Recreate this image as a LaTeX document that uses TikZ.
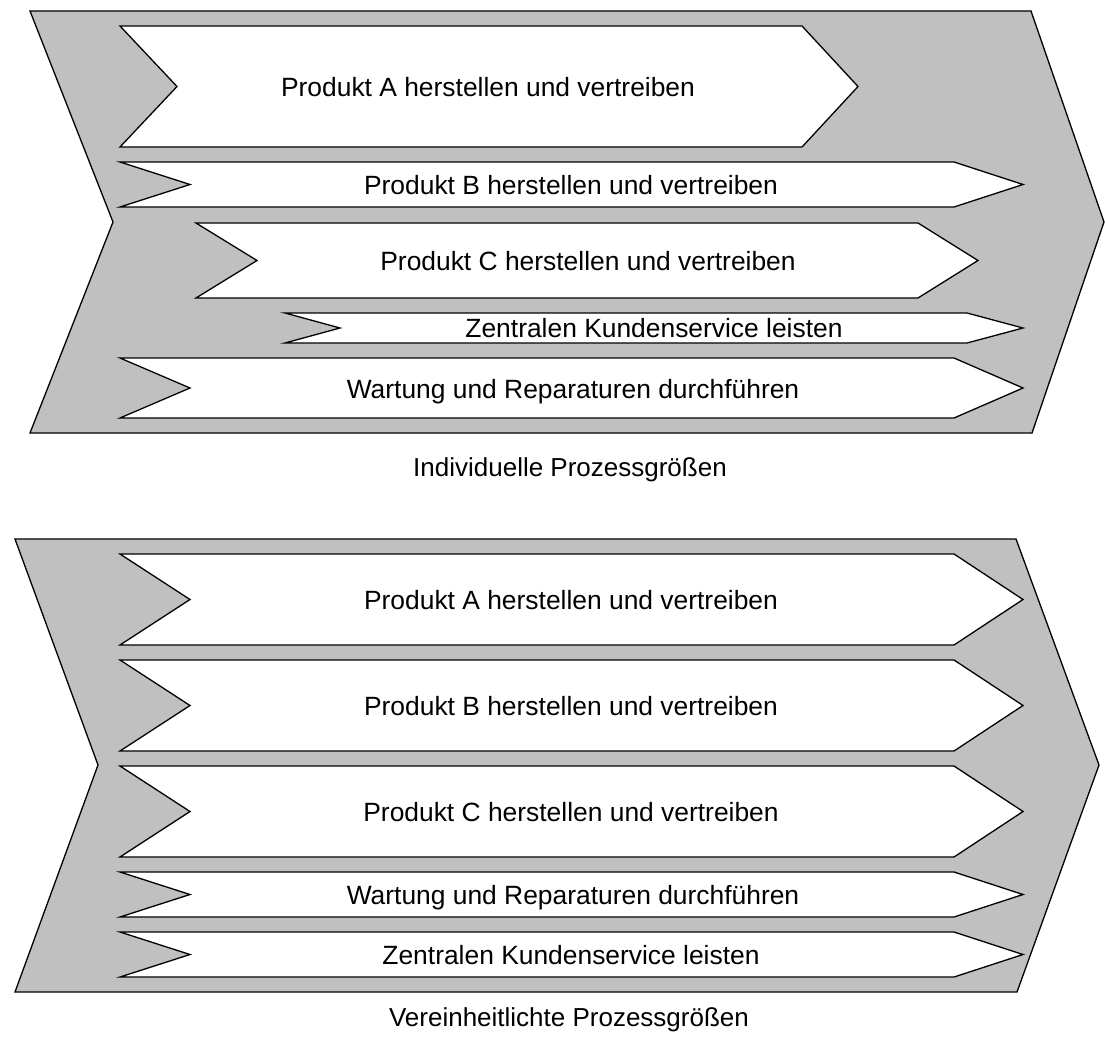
\documentclass[tikz,border=0pt]{standalone}
\usepackage{fontspec}
\setmainfont{Liberation Sans}
\begin{document}
\begin{tikzpicture}[x=1pt,y=-1pt,
  outline/.style={draw=black,line width=1.3pt,line join=miter},
  backarrow/.style={outline,fill=bargray},
  procbar/.style={outline,fill=white},
  proclabel/.style={anchor=base,inner sep=0pt,font=\fontsize{26.4}{30}\selectfont},
  caption/.style={anchor=base,inner sep=0pt,font=\fontsize{26}{30}\selectfont}]
\definecolor{bargray}{HTML}{C0C0C0}
\useasboundingbox (0,0) rectangle (1105,1041);
% process bar: left x, notch x, body end x, tip x, top y, bottom y
\newcommand\procshape[6]{%
  \draw[procbar] (#1,#5) -- (#3,#5) -- (#4,{(#5+#6)/2}) -- (#3,#6) -- (#1,#6)
    -- (#2,{(#5+#6)/2}) -- cycle;}

% ---- upper value chain: individual process sizes
\draw[backarrow] (30,11) -- (1031,11) -- (1104,222) -- (1032,433) -- (30,433) -- (113,222) -- cycle;
\procshape{120}{177}{802}{858}{26}{147}
\procshape{120}{190}{954}{1023}{162}{207}
\procshape{196}{257}{918}{978}{223}{298}
\procshape{285}{340}{967}{1023}{313}{343}
\procshape{120}{190}{954}{1023}{358}{418}
\node[proclabel] (ua) at (488,96) {Produkt A herstellen und vertreiben};
\node[proclabel] (ub) at (571,194) {Produkt B herstellen und vertreiben};
\node[proclabel] (uc) at (588,270) {Produkt C herstellen und vertreiben};
\node[proclabel] (uk) at (654,337) {Zentralen Kundenservice leisten};
\node[proclabel] (uw) at (573,398) {Wartung und Reparaturen durchführen};
\node[caption] (cap1) at (570,476) {Individuelle Prozessgrößen};

% ---- lower value chain: unified process sizes
\draw[backarrow] (15,539) -- (1016,539) -- (1099,765) -- (1017,992) -- (15,992) -- (98,765) -- cycle;
\procshape{120}{190}{954}{1023}{554}{645}
\procshape{120}{190}{954}{1023}{660}{751}
\procshape{120}{190}{954}{1023}{766}{857}
\procshape{120}{190}{954}{1023}{872}{917}
\procshape{120}{190}{954}{1023}{932}{977}
\node[proclabel] (la) at (571,609) {Produkt A herstellen und vertreiben};
\node[proclabel] (lb) at (571,715) {Produkt B herstellen und vertreiben};
\node[proclabel] (lc) at (571,821) {Produkt C herstellen und vertreiben};
\node[proclabel] (lw) at (573,904) {Wartung und Reparaturen durchführen};
\node[proclabel] (lk) at (571,964) {Zentralen Kundenservice leisten};
\node[caption] (cap2) at (569,1026) {Vereinheitlichte Prozessgrößen};
\end{tikzpicture}
\end{document}
